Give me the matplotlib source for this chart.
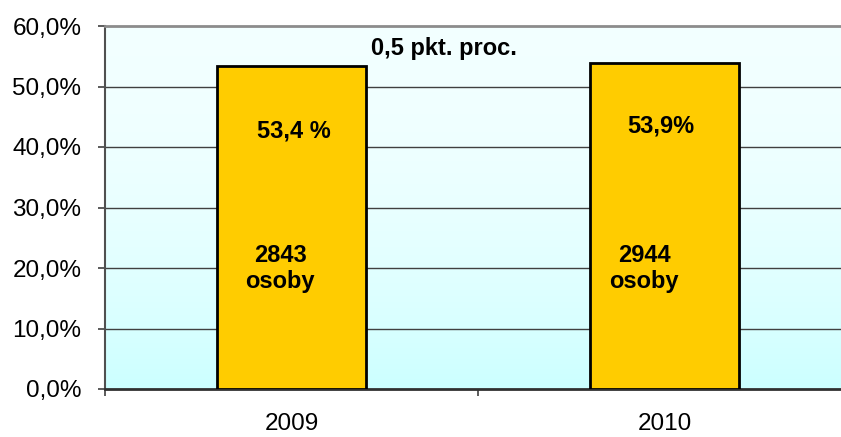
import matplotlib
matplotlib.use("Agg")
import matplotlib.pyplot as plt
import numpy as np

plt.rcParams['font.family'] = ['Liberation Sans', 'DejaVu Sans']

categories = ["2009", "2010"]
values = [53.4, 53.9]
pct_labels = ["53,4 %", "53,9%"]
count_labels = ["2843\nosoby", "2944\nosoby"]
diff_label = "0,5 pkt. proc."
yticks = [0, 10, 20, 30, 40, 50, 60]

fig = plt.figure(figsize=(8.41, 4.37), dpi=100)
ax = fig.add_axes([105/841, 48/437, 746/841, 363/437])

# gradient background
grad = np.linspace(0, 1, 256).reshape(-1, 1)
top = np.array([0.95, 1.0, 1.0])
bot = np.array([0.80, 1.0, 1.0])
img = top + (bot - top) * (grad ** 2)[..., None] * np.ones((1, 1, 3))
ax.imshow(img, extent=[-0.5, 1.5, 0, 60], aspect='auto', zorder=0, origin='upper')

x = np.arange(len(categories))
ax.bar(x, values, width=0.4, color='#FFCC00', edgecolor='black', linewidth=2, zorder=3)

ax.set_xlim(-0.5, 1.5)
ax.set_ylim(0, 60)
ax.set_yticks(yticks)
ax.set_yticklabels([f"{v:.1f}%".replace('.', ',') for v in yticks], fontsize=17.5)
for v in yticks[1:-1]:
    ax.axhline(v, color='#404040', lw=1.0, zorder=1)

ax.set_xticks(x)
ax.set_xticklabels(categories, fontsize=17.5)
ax.tick_params(axis='x', which='major', length=0, pad=17.5)
ax.set_xticks([-0.5, 0.5, 1.5], minor=True)
ax.tick_params(axis='x', which='minor', length=5, width=1.2, color='#404040')
ax.tick_params(axis='y', length=5, width=1.2, color='#404040', pad=12)

ax.spines['right'].set_visible(False)
ax.spines['top'].set_color('#8c8c8c')
ax.spines['top'].set_linewidth(2)
ax.spines['left'].set_color('#505050')
ax.spines['left'].set_linewidth(1.5)
ax.spines['bottom'].set_color('#303030')
ax.spines['bottom'].set_linewidth(2)

pct_pos = [(0.007, 41.6), (0.99, 42.36)]
for (px, py), t in zip(pct_pos, pct_labels):
    ax.text(px, py, t, ha='center', va='baseline', fontsize=17, fontweight='bold', zorder=5)

cnt_x = [-0.03, 0.946]
line_y = [20.94, 16.69]
for px, t in zip(cnt_x, count_labels):
    for py, line in zip(line_y, t.split('\n')):
        ax.text(px, py, line, ha='center', va='baseline', fontsize=17, fontweight='bold', zorder=5)

ax.text(0.409, 55.2, diff_label, ha='center', va='baseline', fontsize=17, fontweight='bold', zorder=5)

fig.savefig("out.png", dpi=100)
